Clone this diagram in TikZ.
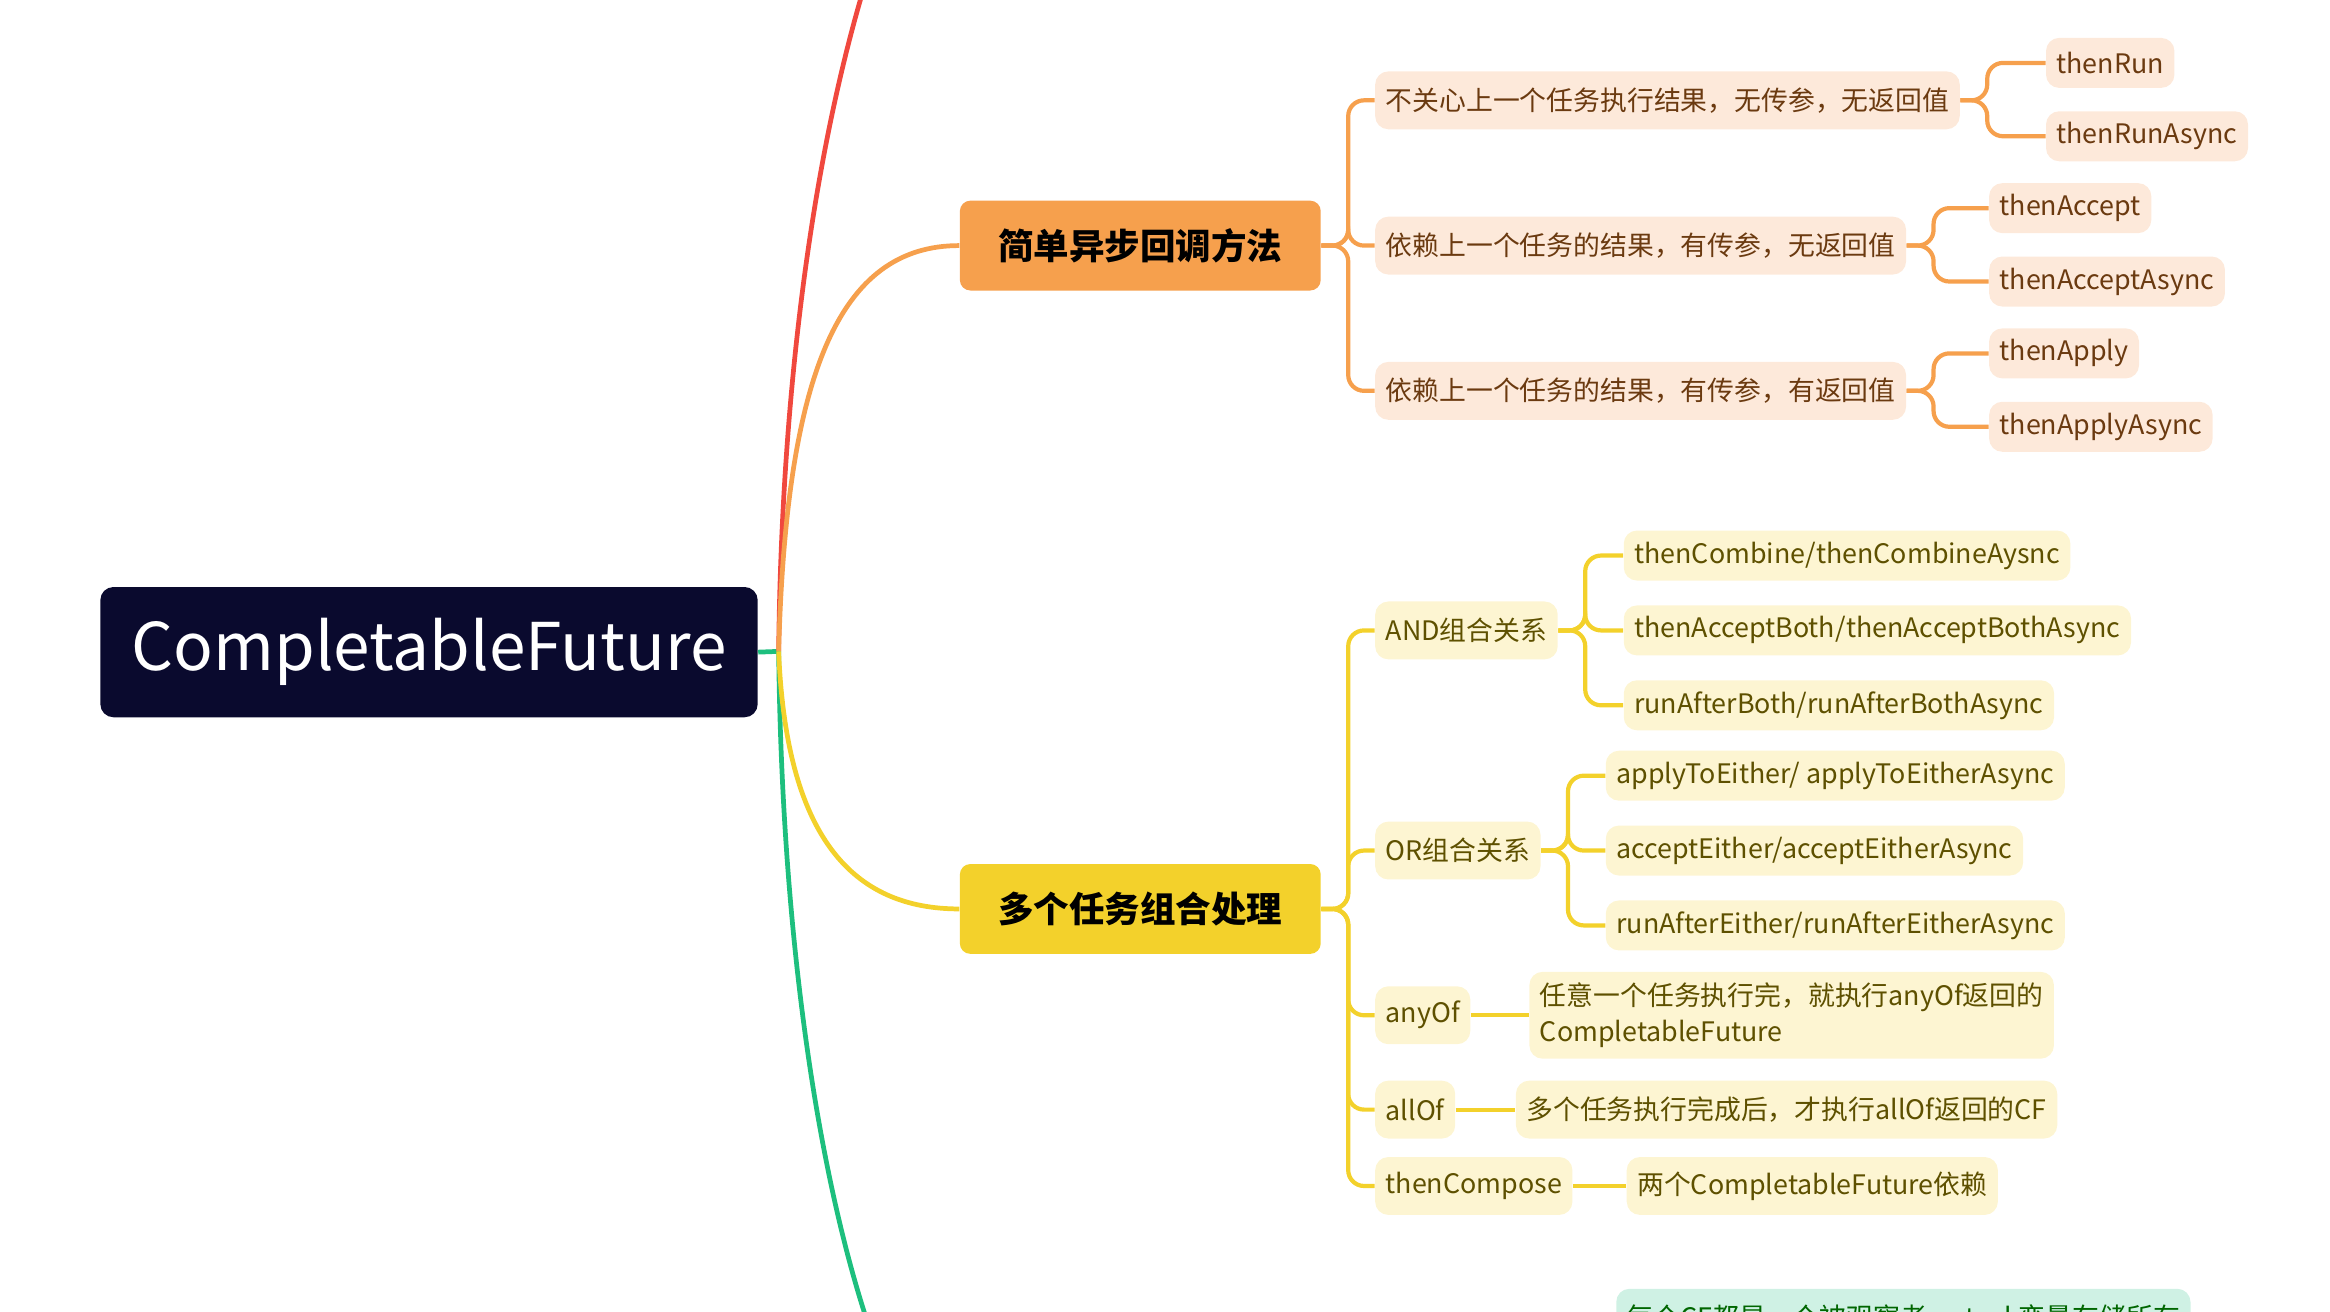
\documentclass[tikz,border=0pt]{standalone}
\usepackage{fontspec}
\setmainfont{Noto Sans CJK SC}
\definecolor{rootfill}{HTML}{0A0A2E}
\definecolor{orangemain}{HTML}{F6A04D}
\definecolor{orangesoft}{HTML}{FDE9DA}
\definecolor{orangetext}{HTML}{6B3A10}
\definecolor{yellowmain}{HTML}{F3D12B}
\definecolor{yellowsoft}{HTML}{FDF5D2}
\definecolor{yellowtext}{HTML}{5E5000}
\definecolor{greenmain}{HTML}{1DBF7E}
\definecolor{greensoft}{HTML}{CFF1E4}
\definecolor{redmain}{HTML}{F0483E}
\tikzset{
  topic/.style={rounded corners=4pt, inner xsep=7pt, minimum height=22pt, font=\bfseries\fontsize{13.5}{15}\selectfont, text=black},
  leaf/.style={rounded corners=5pt, inner xsep=4pt, minimum height=22pt, anchor=west, font=\fontsize{10.2}{12.5}\selectfont},
  oleaf/.style={leaf, fill=orangesoft, text=orangetext},
  yleaf/.style={leaf, fill=yellowsoft, text=yellowtext},
  oline/.style={orangemain, line width=1.6pt, rounded corners=6pt},
  yline/.style={yellowmain, line width=1.6pt, rounded corners=6pt},
}
\begin{document}
\begin{tikzpicture}[x=0.02cm, y=-0.02cm]
  \useasboundingbox (0,0) rectangle (1556,876);
  \clip (0,0) rectangle (1556,876);
  % root and main topics
  \node[fill=rootfill, text=white, rounded corners=5pt, minimum width=439*0.02cm, minimum height=87*0.02cm, font=\fontsize{25}{30}\selectfont] (root) at (286.5,435.5) {CompletableFuture};
  \node[topic, fill=orangemain, minimum width=241*0.02cm, minimum height=60*0.02cm] (simple) at (761.5,164) {简单异步回调方法};
  \node[topic, fill=yellowmain, minimum width=241*0.02cm, minimum height=60*0.02cm] (multi) at (761.5,607) {多个任务组合处理};
  \coordinate (hub) at (520,435);
  \coordinate (redend) at (576,-5);
  \coordinate (greenend) at (580,885);
  % main branches
  \draw[greenmain, line width=1.8pt] (root.east) -- (hub);
  \draw[redmain, line width=1.8pt] (hub) .. controls (522,250) and (545,100) .. (redend);
  \draw[greenmain, line width=1.8pt] (hub) .. controls (522,620) and (545,780) .. (greenend);
  \draw[orangemain, line width=1.8pt] (hub) .. controls (525,250) and (560,164) .. (simple.west);
  \draw[yellowmain, line width=1.8pt] (hub) .. controls (525,560) and (570,607) .. (multi.west);
  % simple callbacks
  \node[oleaf] (norun) at (918,67) {不关心上一个任务执行结果，无传参，无返回值};
  \node[oleaf] (noret) at (918,164) {依赖上一个任务的结果，有传参，无返回值};
  \node[oleaf] (withret) at (918,261) {依赖上一个任务的结果，有传参，有返回值};
  \foreach \c in {norun,noret,withret}
    \draw[oline] (simple.east) -- ++(18,0) |- (\c.west);
  \node[oleaf, minimum height=19pt] (run) at (1366,42) {thenRun};
  \node[oleaf, minimum height=19pt] (runasync) at (1366,91) {thenRunAsync};
  \node[oleaf, minimum height=19pt] (accept) at (1328,139) {thenAccept};
  \node[oleaf, minimum height=19pt] (acceptasync) at (1328,188) {thenAcceptAsync};
  \node[oleaf, minimum height=19pt] (apply) at (1328,236) {thenApply};
  \node[oleaf, minimum height=19pt] (applyasync) at (1328,285) {thenApplyAsync};
  \foreach \p/\c in {norun/run,norun/runasync,noret/accept,noret/acceptasync,withret/apply,withret/applyasync}
    \draw[oline] (\p.east) -- ++(18,0) |- (\c.west);
  % combination
  \node[yleaf] (and) at (918,421) {AND组合关系};
  \node[yleaf] (or) at (918,568) {OR组合关系};
  \node[yleaf] (anyof) at (918,678) {anyOf};
  \node[yleaf] (allof) at (918,741) {allOf};
  \node[yleaf] (compose) at (918,792) {thenCompose};
  \foreach \c in {and,or,anyof,allof,compose}
    \draw[yline] (multi.east) -- ++(18,0) |- (\c.west);
  \node[yleaf, minimum height=19pt] (combine) at (1084,371) {thenCombine/thenCombineAysnc};
  \node[yleaf, minimum height=19pt] (acceptboth) at (1084,421) {thenAcceptBoth/thenAcceptBothAsync};
  \node[yleaf, minimum height=19pt] (runboth) at (1084,471) {runAfterBoth/runAfterBothAsync};
  \node[yleaf, minimum height=19pt] (applyeither) at (1072,518) {applyToEither/ applyToEitherAsync};
  \node[yleaf, minimum height=19pt] (accepteither) at (1072,568) {acceptEither/acceptEitherAsync};
  \node[yleaf, minimum height=19pt] (runeither) at (1072,618) {runAfterEither/runAfterEitherAsync};
  \node[yleaf, align=left, minimum height=33pt, font=\fontsize{10.2}{13.5}\selectfont] (anytext) at (1021,678) {任意一个任务执行完，就执行anyOf返回的\\CompletableFuture};
  \node[yleaf] (alltext) at (1012,741) {多个任务执行完成后，才执行allOf返回的CF};
  \node[yleaf] (composetext) at (1086,792) {两个CompletableFuture依赖};
  \foreach \p/\c in {and/combine,and/acceptboth,and/runboth,or/applyeither,or/accepteither,or/runeither}
    \draw[yline] (\p.east) -- ++(18,0) |- (\c.west);
  \foreach \p/\c in {anyof/anytext,allof/alltext,compose/composetext}
    \draw[yline] (\p.east) -- (\c.west);
  % observer branch, cut by the frame
  \node[leaf, fill=greensoft, text=green!40!black, minimum height=22pt] (observer) at (1079,880) {每个CF都是一个被观察者，stack变量存储所有};
\end{tikzpicture}
\end{document}
